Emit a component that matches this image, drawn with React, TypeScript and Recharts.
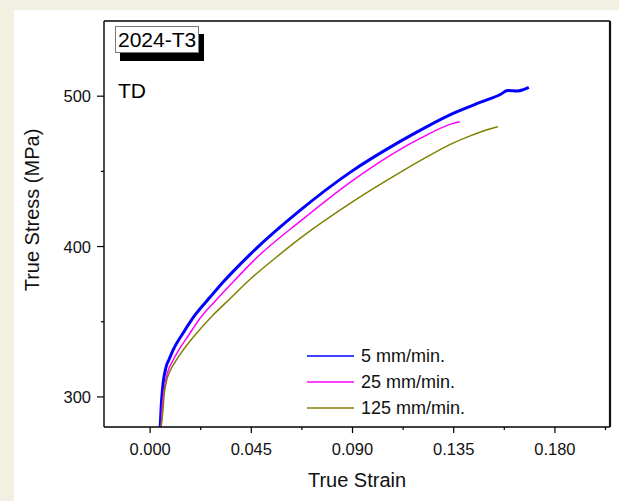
import { Label, Legend, Line, LineChart, ReferenceLine, XAxis, YAxis } from "recharts";

// true strain / true stress (MPa)
const strain5 = [0.0045, 0.0049, 0.0053, 0.0058, 0.0071, 0.0085, 0.0102, 0.0147, 0.02, 0.0267, 0.0325, 0.0446, 0.0668, 0.0891, 0.1114, 0.1225, 0.135, 0.147, 0.1559, 0.159, 0.1635, 0.1684];
const stress5 = [280, 292.7, 301.3, 309.3, 319.9, 325.2, 331.2, 342.5, 354.5, 366.4, 376.4, 395.0, 424.2, 449.5, 470.1, 479.3, 488.7, 496.0, 501.3, 503.8, 503.5, 505.8];

const strain25 = [0.0049, 0.0053, 0.0058, 0.0067, 0.008, 0.0098, 0.0125, 0.0169, 0.0223, 0.029, 0.0356, 0.0477, 0.0668, 0.0891, 0.1114, 0.1203, 0.1337, 0.1377];
const stress25 = [280, 291.3, 300.0, 309.3, 317.3, 323.2, 330.6, 340.5, 352.5, 363.8, 374.4, 393.0, 416.9, 442.9, 464.8, 472.1, 481.4, 483.0];

const strain125 = [0.0049, 0.0058, 0.0062, 0.0071, 0.0089, 0.0111, 0.0147, 0.02, 0.0276, 0.0356, 0.0446, 0.0557, 0.0668, 0.0891, 0.1114, 0.1225, 0.1337, 0.1426, 0.1492, 0.1546];
const stress125 = [280, 292.7, 300.6, 309.3, 317.3, 323.2, 331.2, 341.2, 353.8, 365.4, 378.4, 392.4, 405.6, 428.9, 449.5, 459.1, 468.1, 473.8, 477.4, 479.7];

const xTicks = [0, 0.0225, 0.045, 0.0675, 0.09, 0.1125, 0.135, 0.1575, 0.18, 0.2025];
const yTicks = [300, 350, 400, 450, 500];
const xDomain = [-0.0205, 0.2045];
const yDomain = [280, 550];

const series = [
  { name: "5 mm/min.", color: "#0000ff", width: 3, strain: strain5, stress: stress5 },
  { name: "25 mm/min.", color: "#ff00ff", width: 1.5, strain: strain25, stress: stress25 },
  { name: "125 mm/min.", color: "#808000", width: 1.5, strain: strain125, stress: stress125 },
];

const font = "'Liberation Sans', Arial, sans-serif";

const toPoints = (xs: number[], ys: number[]) => xs.map((x, i) => ({ strain: x, stress: ys[i] }));

const XTick = (props: any) => {
  const { x, y, payload } = props;
  const major = Math.round(payload.value / 0.0225) % 2 === 0;
  return (
    <g>
      <line x1={x} x2={x} y1={y} y2={y + (major ? 6 : 3)} stroke="#000" strokeWidth={1.2} />
      {major && (
        <text x={x} y={y + 28} textAnchor="middle" fontSize={16.5} fill="#111" fontFamily={font}>
          {payload.value.toFixed(3)}
        </text>
      )}
    </g>
  );
};

const YTick = (props: any) => {
  const { x, y, payload } = props;
  const major = payload.value % 100 === 0;
  return (
    <g>
      <line x1={x} x2={x - (major ? 7 : 3)} y1={y} y2={y} stroke="#000" strokeWidth={1.2} />
      {major && (
        <text x={x - 13} y={y + 6} textAnchor="end" fontSize={16.5} fill="#111" fontFamily={font}>
          {payload.value}
        </text>
      )}
    </g>
  );
};

const LegendBox = () => (
  <div style={{ fontFamily: font, fontSize: 18, color: "#111" }}>
    {series.map((s) => (
      <div key={s.name} style={{ display: "flex", alignItems: "center", height: 26 }}>
        <svg width={47} height={26} style={{ marginRight: 7 }}>
          <line x1={0} x2={47} y1={13} y2={13} stroke={s.color} strokeWidth={1.5} />
        </svg>
        <span style={{ whiteSpace: "nowrap" }}>{s.name}</span>
      </div>
    ))}
  </div>
);

export default function App() {
  return (
    <div style={{ position: "absolute", left: 0, top: 0, width: 619, height: 501, background: "#f2f0e1", fontFamily: font }}>
      <div style={{ position: "absolute", left: 14, top: 10, right: 0, bottom: 0, background: "#fff" }} />
      <div style={{ position: "absolute", left: 0, top: 0 }}>
        <LineChart width={619} height={501} margin={{ top: 21, right: 9, bottom: 0, left: 0 }}>
          <XAxis
            dataKey="strain"
            type="number"
            domain={xDomain}
            ticks={xTicks}
            allowDataOverflow
            height={74}
            tickSize={0}
            tickMargin={0}
            tickLine={false}
            tick={XTick}
            axisLine={{ stroke: "#000", strokeWidth: 1.4 }}
            interval={0}
          >
            <Label value="True Strain" position="insideBottom" offset={14} fontSize={20} fill="#111" fontFamily={font} />
          </XAxis>
          <YAxis
            dataKey="stress"
            type="number"
            domain={yDomain}
            ticks={yTicks}
            allowDataOverflow
            width={104}
            tickSize={0}
            tickMargin={0}
            tickLine={false}
            tick={YTick}
            axisLine={{ stroke: "#000", strokeWidth: 1.4 }}
            interval={0}
          >
            <Label
              content={() => (
                <text x={32} y={210} transform="rotate(-90 32 210)" textAnchor="middle" dominantBaseline="central" fontSize={20} fill="#111" fontFamily={font}>
                  True Stress (MPa)
                </text>
              )}
            />
          </YAxis>
          <ReferenceLine y={yDomain[1]} stroke="#000" strokeWidth={1.4} />
          <ReferenceLine x={xDomain[1]} stroke="#111" strokeWidth={2.2} />
          {series.map((s) => (
            <Line
              key={s.name}
              data={toPoints(s.strain, s.stress)}
              dataKey="stress"
              name={s.name}
              type="monotone"
              stroke={s.color}
              strokeWidth={s.width}
              dot={false}
              activeDot={false}
              isAnimationActive={false}
            />
          ))}
          <Legend
            content={LegendBox}
            layout="vertical"
            align="center"
            verticalAlign="middle"
            wrapperStyle={{ left: 307, top: 343, width: "auto", bottom: "auto", right: "auto" }}
          />
        </LineChart>
      </div>
      <div
        style={{
          position: "absolute",
          left: 115,
          top: 26,
          border: "1px solid #777",
          background: "#fff",
          padding: "2px 2px",
          fontSize: 21,
          lineHeight: "21px",
          color: "#000",
          boxShadow: "5px 8px 0 #000",
        }}
      >
        2024-T3
      </div>
      <div style={{ position: "absolute", left: 118, top: 80, fontSize: 21, lineHeight: "21px", color: "#000" }}>TD</div>
    </div>
  );
}
